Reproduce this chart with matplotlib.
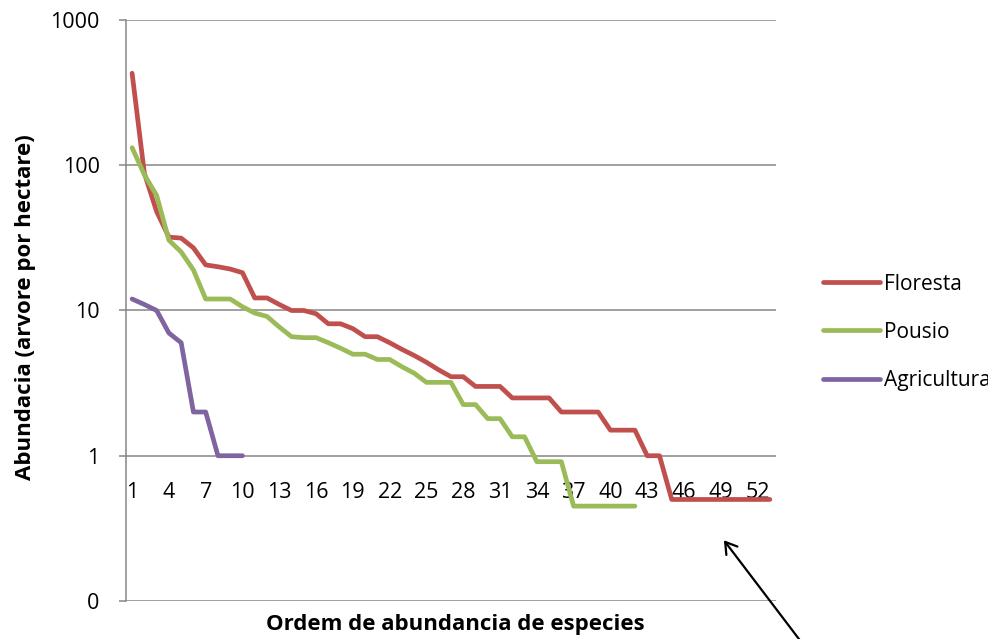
import numpy as np
import matplotlib.pyplot as plt
from matplotlib.patches import FancyArrowPatch
from matplotlib.ticker import FixedLocator, FixedFormatter, NullLocator

plt.rcParams['font.family'] = ['Open Sans', 'DejaVu Sans']

# Abundance per species rank (trees per hectare)
floresta = [430, 88, 48, 32, 31.5, 27, 20.6, 20, 19.3, 18.2,
            12.2, 12.2, 11, 10, 10, 9.5, 8.1, 8.1, 7.5, 6.6,
            6.6, 6.0, 5.4, 4.9, 4.4, 3.9, 3.5, 3.5, 3.0, 3.0,
            3.0, 2.5, 2.5, 2.5, 2.5, 2.0, 2.0, 2.0, 2.0, 1.5,
            1.5, 1.5, 1.0, 1.0, 0.5, 0.5, 0.5, 0.5, 0.5, 0.5,
            0.5, 0.5, 0.5]
pousio = [132, 86, 62, 30.5, 25.3, 19, 12, 12, 12, 10.6,
          9.6, 9.1, 7.7, 6.6, 6.5, 6.5, 6.0, 5.5, 5.0, 5.0,
          4.6, 4.6, 4.1, 3.7, 3.2, 3.2, 3.2, 2.25, 2.25, 1.8,
          1.8, 1.35, 1.35, 0.91, 0.91, 0.91, 0.45, 0.45, 0.45, 0.45,
          0.45, 0.45]
agricultura = [12, 11, 10, 7, 6, 2, 2, 1, 1, 1]

series_names = ['Floresta', 'Pousio', 'Agricultura']
colors = {'Floresta': '#C0504D', 'Pousio': '#9BBB59', 'Agricultura': '#8064A2'}
x_ticks = list(range(1, 54, 3))
y_ticks = [0.1, 1, 10, 100, 1000]
y_tick_labels = ['0', '1', '10', '100', '1000']

fig = plt.figure(figsize=(9.88, 6.39), dpi=100)
ax = fig.add_axes([0.1275, 0.0595, 0.6579, 0.9092])

for name, vals in zip(series_names, [floresta, pousio, agricultura]):
    xs = np.arange(1, len(vals) + 1)
    ax.plot(xs, vals, color=colors[name], lw=3.4, label=name,
            solid_joinstyle='round', solid_capstyle='round')

ax.set_yscale('log')
ax.set_ylim(0.1, 1000)
ax.set_xlim(0.5, 53.5)
ax.yaxis.set_major_locator(FixedLocator(y_ticks))
ax.yaxis.set_major_formatter(FixedFormatter(y_tick_labels))
ax.yaxis.set_minor_locator(NullLocator())
ax.grid(axis='y', color='#868686', lw=1.1)
ax.set_axisbelow(True)

ax.set_xticks(x_ticks)
ax.set_xticklabels([str(t) for t in x_ticks])
# horizontal axis crosses at 1 (Excel style)
ax.spines['bottom'].set_position(('data', 1))
ax.spines['bottom'].set_visible(False)
ax.spines['top'].set_visible(False)
ax.spines['right'].set_visible(False)
ax.spines['left'].set_color('#868686')
ax.spines['left'].set_linewidth(1.1)
ax.tick_params(axis='x', length=0, pad=19, labelsize=15.5)
ax.tick_params(axis='y', length=5, color='#868686', width=1.1, pad=14, labelsize=15.5)

fig.text(0.461, 0.022, 'Ordem de abundancia de especies', ha='center', va='center',
         fontsize=16, fontweight='bold')
fig.text(0.026, 0.52, 'Abundacia (arvore por hectare)', ha='center', va='center',
         rotation=90, fontsize=16, fontweight='bold')

ax.legend(loc='center left', bbox_to_anchor=(0.833, 0.4800), bbox_transform=fig.transFigure,
          frameon=False, fontsize=15, handlelength=2.75, handletextpad=0.2,
          labelspacing=1.3, borderaxespad=0, borderpad=0)

fig.patches.append(FancyArrowPatch(
    (0.817, -0.017), (0.731, 0.158), transform=fig.transFigure,
    arrowstyle='->,head_length=8,head_width=5', color='black', lw=1.6))

plt.savefig('out.png', dpi=100)
